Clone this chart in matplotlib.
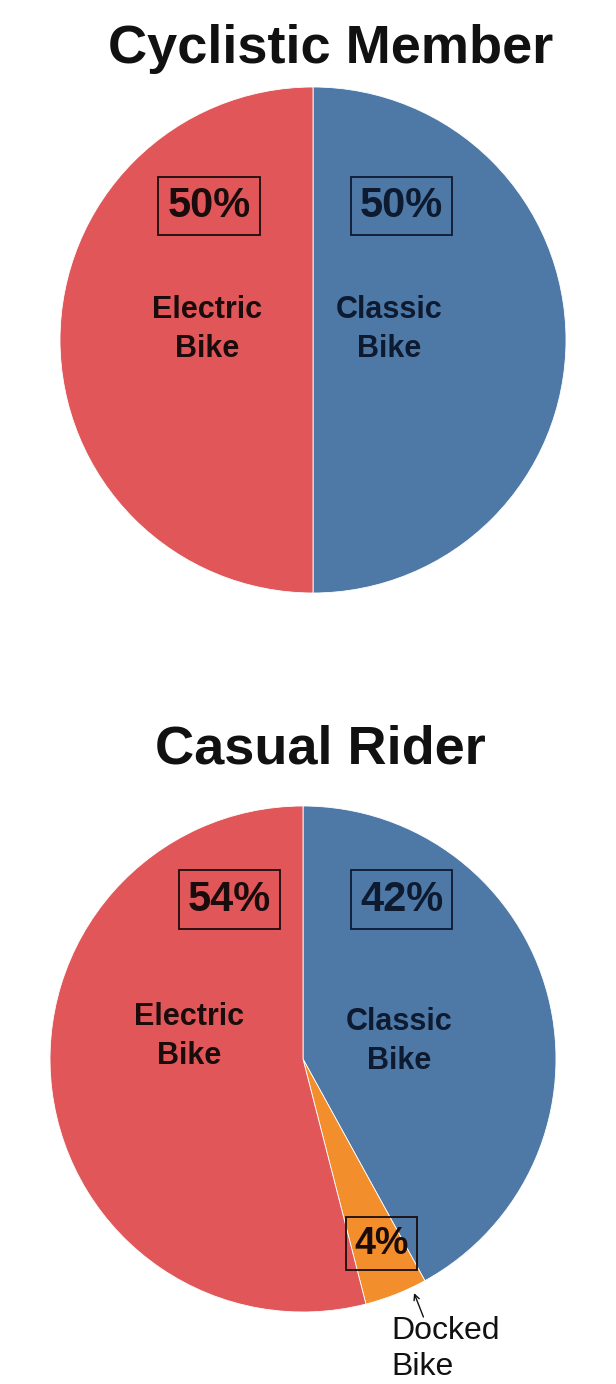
import matplotlib
matplotlib.use("Agg")
import matplotlib.pyplot as plt

plt.rcParams["font.family"] = ["Liberation Sans", "DejaVu Sans"]

W, H = 616, 1384

# bike type split, listed clockwise from 12 o'clock
member_types = ["Classic Bike", "Electric Bike"]
member_pct = [50, 50]

casual_types = ["Classic Bike", "Docked Bike", "Electric Bike"]
casual_pct = [42, 4, 54]

TYPE_COLORS = {"Classic Bike": "#4E79A7", "Electric Bike": "#E15759", "Docked Bike": "#F28E2B"}
TEXT_COLORS = {"Classic Bike": "#0e1a30", "Electric Bike": "#1a0c0c", "Docked Bike": "#1a0c0c"}


def pie_axes(fig, cx, cy, r):
    """Square axes in pixel coords, pie radius 1 == r pixels."""
    ax = fig.add_axes([(cx - r) / W, (H - cy - r) / H, 2 * r / W, 2 * r / H])
    ax.axis("off")
    return ax


def draw_pie(ax, types, pct, pct_pos, name_pos, pct_size=30):
    ax.pie(pct, colors=[TYPE_COLORS[t] for t in types], startangle=90,
           counterclock=False, radius=1, frame=False,
           wedgeprops=dict(edgecolor="white", linewidth=0.6))
    # pie() pads its own limits; pin them so radius 1 fills the axes
    ax.set_xlim(-1, 1)
    ax.set_ylim(-1, 1)
    ax.set_aspect("equal")
    for t, v in zip(types, pct):
        tc = TEXT_COLORS[t]
        x, y = pct_pos[t]
        size = pct_size if v >= 10 else pct_size - 3
        ax.text(x, y, f"{v}%", ha="center", va="center", fontsize=size,
                fontweight="bold", color=tc, clip_on=False,
                bbox=dict(boxstyle="square,pad=0.22", facecolor="none",
                          edgecolor=tc, linewidth=1.3))
        if t in name_pos:
            nx, ny = name_pos[t]
            ax.text(nx, ny, t.replace(" ", "\n"), ha="center", va="center",
                    fontsize=22, fontweight="bold", color=tc, linespacing=1.4)


fig = plt.figure(figsize=(W / 100, H / 100), dpi=100)
fig.patch.set_facecolor("white")

fig.text(331 / W, 1 - 63 / H, "Cyclistic Member", ha="center", va="baseline",
         fontsize=39, fontweight="bold", color="#111111")
fig.text(320 / W, 1 - 764 / H, "Casual Rider", ha="center", va="baseline",
         fontsize=39, fontweight="bold", color="#111111")

# member pie
ax1 = pie_axes(fig, 313, 340, 253)
draw_pie(ax1, member_types, member_pct,
         pct_pos={"Electric Bike": (-0.41, 0.53), "Classic Bike": (0.35, 0.53)},
         name_pos={"Electric Bike": (-0.42, 0.04), "Classic Bike": (0.30, 0.04)})

# casual pie
ax2 = pie_axes(fig, 303, 1059, 253)
draw_pie(ax2, casual_types, casual_pct,
         pct_pos={"Electric Bike": (-0.29, 0.63), "Classic Bike": (0.39, 0.63),
                  "Docked Bike": (0.31, -0.73)},
         name_pos={"Electric Bike": (-0.45, 0.09), "Classic Bike": (0.38, 0.07)})

# docked bike slice is too thin for its name: label it outside with a pointer
ax2.annotate("", xy=(0.435, -0.915), xytext=(0.48, -1.03),
             arrowprops=dict(arrowstyle="->", color="#111111", lw=1.0),
             annotation_clip=False)
ax2.text(0.35, -1.145, "Docked\nBike", ha="left", va="center", fontsize=23,
         color="#111111", linespacing=1.25, clip_on=False)

fig.savefig("out.png", dpi=100, facecolor="white")
